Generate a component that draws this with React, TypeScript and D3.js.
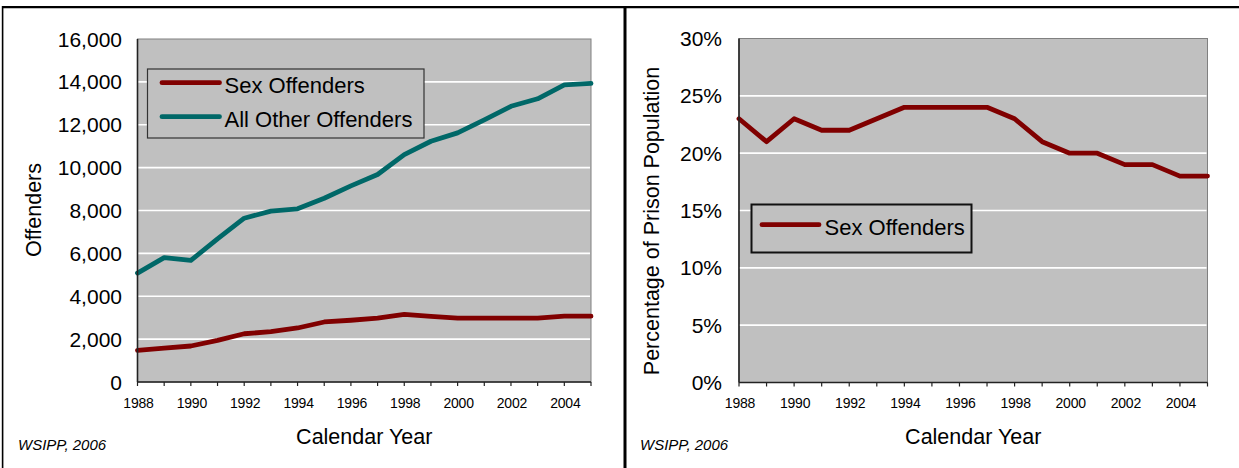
import React from "react";
import * as d3 from "d3";

// ---- data ----
const years = [1988, 1989, 1990, 1991, 1992, 1993, 1994, 1995, 1996, 1997, 1998, 1999, 2000, 2001, 2002, 2003, 2004, 2005];
const yearTickLabels = [1988, 1990, 1992, 1994, 1996, 1998, 2000, 2002, 2004];
const sexOffenders = [1480, 1580, 1680, 1940, 2250, 2350, 2520, 2800, 2880, 2980, 3150, 3060, 2980, 2980, 2980, 2980, 3070, 3070];
const allOtherOffenders = [5080, 5800, 5670, 6680, 7640, 7970, 8080, 8570, 9150, 9680, 10610, 11230, 11620, 12230, 12860, 13210, 13860, 13930];
const sexOffenderShare = [0.23, 0.21, 0.23, 0.22, 0.22, 0.23, 0.24, 0.24, 0.24, 0.24, 0.23, 0.21, 0.2, 0.2, 0.19, 0.19, 0.18, 0.18];
const countTicks = [0, 2000, 4000, 6000, 8000, 10000, 12000, 14000, 16000];
const shareTicks = [0, 0.05, 0.1, 0.15, 0.2, 0.25, 0.3];
const seriesNames = ["Sex Offenders", "All Other Offenders"];
const sourceNote = "WSIPP, 2006";
const xTitle = "Calendar Year";

const FONT = "'Liberation Sans', Arial, Helvetica, sans-serif";
const RED = "#800000";
const TEAL = "#006868";
const PLOT_BG = "#c0c0c0";

type Series = { values: number[]; color: string };

type PanelProps = {
  x0: number; x1: number; y0: number; y1: number;
  yDomain: [number, number];
  yTicks: number[];
  yFormat: (v: number) => string;
  series: Series[];
  yTitle: string;
  yTitleX: number;
  yTitleY: number;
  labelRight: number;
  noteX: number;
  legend: React.ReactNode;
};

function Panel(p: PanelProps) {
  const x = d3.scaleLinear().domain([years[0], years[years.length - 1]]).range([p.x0, p.x1]);
  const y = d3.scaleLinear().domain(p.yDomain).range([p.y1, p.y0]);
  const line = d3
    .line<number>()
    .x((_, i) => x(years[i]))
    .y((v) => y(v));
  return (
    <g>
      <rect x={p.x0} y={p.y0} width={p.x1 - p.x0} height={p.y1 - p.y0} fill={PLOT_BG} stroke="#808080" strokeWidth={1} />
      {p.yTicks.slice(1, -1).map((t) => (
        <line key={t} x1={p.x0} x2={p.x1 - 1} y1={y(t)} y2={y(t)} stroke="#ffffff" strokeWidth={1.6} />
      ))}
      {p.series.map((s, i) => (
        <path key={i} d={line(s.values) || ""} fill="none" stroke={s.color} strokeWidth={4.8} strokeLinejoin="round" strokeLinecap="round" />
      ))}
      {/* axes */}
      <line x1={p.x0} x2={p.x0} y1={p.y0} y2={p.y1} stroke="#222" strokeWidth={1.6} />
      <line x1={p.x0} x2={p.x1} y1={p.y1} y2={p.y1} stroke="#222" strokeWidth={1.6} />
      {years.map((yr) => (
        <line key={yr} x1={x(yr)} x2={x(yr)} y1={p.y1} y2={p.y1 + 4} stroke="#222" strokeWidth={1.2} />
      ))}
      {yearTickLabels.map((yr) => (
        <text key={yr} x={x(yr) + 1} y={p.y1 + 25.5} textAnchor="middle" fontSize={14} letterSpacing={-0.2} fill="#000">
          {yr}
        </text>
      ))}
      {p.yTicks.map((t) => (
        <text key={t} x={p.labelRight} y={y(t) + 7.5} textAnchor="end" fontSize={21} fill="#000">
          {p.yFormat(t)}
        </text>
      ))}
      <text x={(p.x0 + p.x1) / 2} y={444} textAnchor="middle" fontSize={21.5} fill="#000">
        {xTitle}
      </text>
      <text transform={`translate(${p.yTitleX},${p.yTitleY}) rotate(-90)`} textAnchor="middle" fontSize={21.5} fill="#000">
        {p.yTitle}
      </text>
      <text x={p.noteX} y={450} fontSize={15} fontStyle="italic" fill="#000">
        {sourceNote}
      </text>
      {p.legend}
    </g>
  );
}

export default function App() {
  const fmtCount = d3.format(",");
  const fmtPct = d3.format(".0%");
  const leftLegend = (
    <g>
      <rect x={147.5} y={69} width={276.5} height={69} fill={PLOT_BG} stroke="#333" strokeWidth={1.2} />
      <line x1={162} x2={219.5} y1={82.7} y2={82.7} stroke={RED} strokeWidth={4.8} strokeLinecap="round" />
      <text x={224.5} y={92.7} fontSize={22} fill="#000">{seriesNames[0]}</text>
      <line x1={162} x2={219.5} y1={116.7} y2={116.7} stroke={TEAL} strokeWidth={4.8} strokeLinecap="round" />
      <text x={224.5} y={126.7} fontSize={22} fill="#000">{seriesNames[1]}</text>
    </g>
  );
  const rightLegend = (
    <g>
      <rect x={751.5} y={204.5} width={220} height={48} fill={PLOT_BG} stroke="#111" strokeWidth={2} />
      <line x1={762} x2={819} y1={224.7} y2={224.7} stroke={RED} strokeWidth={4.8} strokeLinecap="round" />
      <text x={824.5} y={235} fontSize={22} fill="#000">{seriesNames[0]}</text>
    </g>
  );
  return (
    <svg
      width={1239}
      height={468}
      viewBox="0 0 1239 468"
      style={{ position: "absolute", left: 0, top: 0, background: "#fff", fontFamily: FONT }}
    >
      <rect x={0} y={0} width={1239} height={468} fill="#fff" />
      {/* frame */}
      <line x1={2} x2={1239} y1={7.2} y2={7.2} stroke="#000" strokeWidth={2.2} />
      <line x1={2.6} x2={2.6} y1={6} y2={468} stroke="#000" strokeWidth={1.6} />
      <line x1={625} x2={625} y1={6} y2={468} stroke="#000" strokeWidth={3} />
      <Panel
        x0={137.5}
        x1={591}
        y0={39}
        y1={382}
        yDomain={[0, 16000]}
        yTicks={countTicks}
        yFormat={(v) => fmtCount(v)}
        series={[
          { values: sexOffenders, color: RED },
          { values: allOtherOffenders, color: TEAL },
        ]}
        yTitle="Offenders"
        yTitleX={40.5}
        yTitleY={210}
        labelRight={122}
        noteX={18}
        legend={leftLegend}
      />
      <Panel
        x0={739}
        x1={1207.5}
        y0={38.5}
        y1={382.5}
        yDomain={[0, 0.3]}
        yTicks={shareTicks}
        yFormat={(v) => fmtPct(v)}
        series={[{ values: sexOffenderShare, color: RED }]}
        yTitle="Percentage of Prison Population"
        yTitleX={659}
        yTitleY={221}
        labelRight={722}
        noteX={640}
        legend={rightLegend}
      />
    </svg>
  );
}
